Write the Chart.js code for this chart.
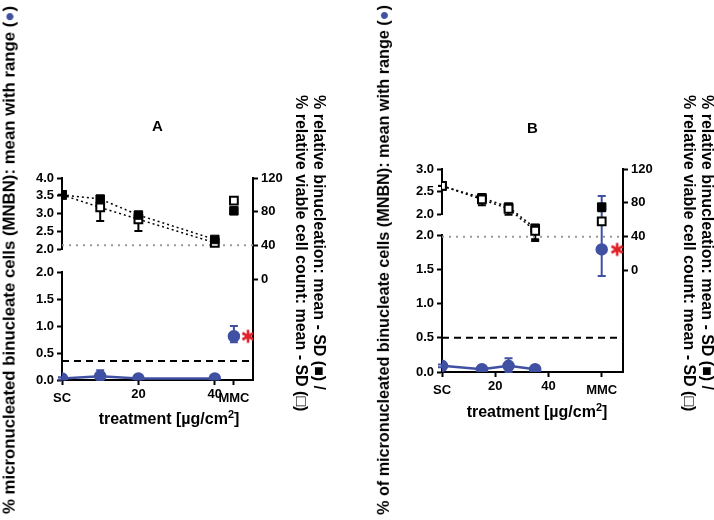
<!DOCTYPE html>
<html>
<head>
<meta charset="utf-8">
<script src="https://cdn.jsdelivr.net/npm/chart.js@4.4.0/dist/chart.umd.min.js"></script>
<style>
  body { margin: 0; background: #fff; }
  #wrap { position: relative; width: 714px; height: 520px; overflow: hidden;
          font-family: "Liberation Sans", Arial, sans-serif; font-weight: bold; color: #000; }
  #wrap canvas { position: absolute; top: 0; }
  .lbl { position: absolute; white-space: nowrap; line-height: 1; }
  .rot-l { transform: translate(-50%, -50%) rotate(-90deg); }
  .rot-r { transform-origin: 0 0; transform: rotate(90deg) translateY(-50%); font-size: 16px; }
  .xt { transform: translate(-50%, -50%); font-size: 16px; }
  .dot { color: #4051a3; }
</style>
</head>
<body>
<div id="wrap">
  <canvas id="chartA" width="357" height="520" style="left:0"></canvas>
  <canvas id="chartB" width="357" height="520" style="left:357px"></canvas>

  <div class="lbl rot-l" style="left:10px; top:260px; font-size:16.8px">% micronucleated binucleate cells (MNBN): mean with range (<span class="dot">●</span>)</div>
  <div class="lbl rot-r" style="left:319px; top:95px">% relative binucleation: mean - SD (■) /</div>
  <div class="lbl rot-r" style="left:301px; top:95px">% relative viable cell count: mean - SD (□)</div>
  <div class="lbl xt" style="left:169px; top:418px">treatment [µg/cm<sup style="font-size:11px">2</sup>]</div>

  <div class="lbl rot-l" style="left:383px; top:260px; font-size:16.2px">% of micronucleated binucleate cells (MNBN): mean with range (<span class="dot">●</span>)</div>
  <div class="lbl rot-r" style="left:707px; top:95px">% relative binucleation: mean - SD (■) /</div>
  <div class="lbl rot-r" style="left:689px; top:95px">% relative viable cell count: mean - SD (□)</div>
  <div class="lbl xt" style="left:537px; top:411px">treatment [µg/cm<sup style="font-size:11px">2</sup>]</div>
</div>

<script>
// ---- panel A data (x: SC = 0, MMC drawn at 45) ----
const xA = [0, 10, 20, 40, 45];
const mnbnA = [0.03, 0.07, 0.03, 0.03, 0.81];
const mnbnA_lo = [0.01, 0.0, 0.01, 0.01, 0.70];
const mnbnA_hi = [0.05, 0.18, 0.05, 0.05, 1.0];
const binucA = [100, 95, 76, 47, 81];
const binucA_sd = [100, 92, 73, 44, 78];
const viableA = [100, 85, 71, 43, 93];
const viableA_sd = [100, 69, 57, 40, 90];
const cutoffA = 0.35;
const starA = [48.7, 0.81];
const xTicksA = [0, 20, 40, 45];
const xLabelsA = ["SC", "20", "40", "MMC"];

// ---- panel B data (x: SC = 0, MMC drawn at 60) ----
const xB = [0, 15, 25, 35, 60];
const mnbnB = [0.09, 0.04, 0.09, 0.04, 1.79];
const mnbnB_lo = [0.07, 0.02, 0.0, 0.02, 1.4];
const mnbnB_hi = [0.11, 0.06, 0.2, 0.06, 2.4];
const binucB = [100, 86, 75, 50, 75];
const binucB_sd = [100, 77, 66, 35, 70];
const viableB = [100, 84, 73, 47, 58];
const viableB_sd = [100, 80, 70, 37, 54];
const cutoffB = 0.5;
const starB = [65.8, 1.79];
const xTicksB = [0, 20, 40, 60];
const xLabelsB = ["SC", "20", "40", "MMC"];

const rightTicks = [0, 40, 80, 120];
const viabilityLine = 40;

const BLUE = "#4051a3";
const FAMILY = "'Liberation Sans Narrow', 'Liberation Sans', Arial, sans-serif";
const tickFont = { family: FAMILY, size: 13, weight: "bold" };

// six-armed red asterisk used as the significance marker
const asterisk = document.createElement("canvas");
asterisk.width = 16;
asterisk.height = 16;
(function () {
  const c = asterisk.getContext("2d");
  c.strokeStyle = "#e0202a";
  c.lineWidth = 2.6;
  c.lineCap = "butt";
  [90, 30, 150].forEach((deg) => {
    const a = (deg * Math.PI) / 180;
    c.beginPath();
    c.moveTo(8 - 6.5 * Math.cos(a), 8 - 6.5 * Math.sin(a));
    c.lineTo(8 + 6.5 * Math.cos(a), 8 + 6.5 * Math.sin(a));
    c.stroke();
  });
})();

// y pixel, values above 2 on the lower left axis go onto the upper (broken) part
function yPix(chart, id, v) {
  if (id === "yLow" && v > 2) return chart.scales.yHigh.getPixelForValue(v);
  return chart.scales[id].getPixelForValue(v);
}

const errorBars = {
  id: "errorBars",
  beforeDatasetsDraw(chart) {
    const ctx = chart.ctx;
    chart.data.datasets.forEach((ds, i) => {
      if (!ds.errLo && !ds.errHi) return;
      const sx = chart.scales.x;
      ctx.save();
      ctx.strokeStyle = ds.errColor;
      ctx.lineWidth = 2;
      ds.data.forEach((p, j) => {
        const px = sx.getPixelForValue(p.x);
        const py = yPix(chart, ds.yAxisID, p.y);
        [ds.errLo, ds.errHi].forEach((arr) => {
          if (!arr || arr[j] == null) return;
          const ey = yPix(chart, ds.yAxisID, arr[j]);
          ctx.beginPath();
          ctx.moveTo(px, py);
          ctx.lineTo(px, ey);
          ctx.moveTo(px - 4, ey);
          ctx.lineTo(px + 4, ey);
          ctx.stroke();
        });
      });
      ctx.restore();
    });
  },
};

const pts = (xs, ys) => xs.map((x, i) => ({ x: x, y: ys[i] }));
// no line from the last dose to MMC
const noLastSeg = (color) => (c) => (c.p1DataIndex === 4 ? "rgba(0,0,0,0)" : color);

function yAxis(extra) {
  return Object.assign({
    position: "left",
    stack: "left",
    ticks: { stepSize: 0.5, autoSkip: false, font: tickFont, color: "#000", padding: 3,
             callback: (v) => v.toFixed(1) },
    grid: { drawOnChartArea: false, tickLength: 5, tickWidth: 2, color: "#000" },
    border: { color: "#000", width: 2 },
    afterFit: (s) => { s.width = 40; },
  }, extra);
}

function makePanel(id, p) {
  const sets = [
    {
      label: "mnbn", yAxisID: "yLow", data: pts(p.x, p.mnbn),
      errLo: p.mnbnLo, errHi: p.mnbnHi, errColor: BLUE,
      borderColor: BLUE, borderWidth: 2.5, segment: { borderColor: noLastSeg(BLUE) },
      pointRadius: 5, pointBackgroundColor: BLUE, pointBorderColor: BLUE,
    },
    {
      label: "star", yAxisID: "yLow", data: [{ x: p.star[0], y: p.star[1] }], showLine: false,
      pointStyle: asterisk,
    },
  ];
  const filled = {
    label: "binuc", yAxisID: "yR", data: pts(p.x, p.binuc), errLo: p.binucSd, errColor: "#000",
    borderColor: "#000", borderWidth: 1.5, borderDash: [2, 3], segment: { borderColor: noLastSeg("#000") },
    pointStyle: "rect", pointRadius: 6, pointBackgroundColor: "#000", pointBorderColor: "#000", pointBorderWidth: 1,
  };
  const open = {
    label: "viable", yAxisID: "yR", data: pts(p.x, p.viable), errLo: p.viableSd, errColor: "#000",
    borderColor: "#000", borderWidth: 1.5, borderDash: [2, 3], segment: { borderColor: noLastSeg("#000") },
    pointStyle: "rect", pointRadius: 5.5, pointBackgroundColor: "#fff", pointBorderColor: "#000", pointBorderWidth: 2,
  };
  if (p.openOnTop) sets.push(open, filled); else sets.push(filled, open);
  sets.push(
    {
      label: "cutoff", yAxisID: "yLow", data: [{ x: 0, y: p.cutoff }, { x: p.xMax, y: p.cutoff }],
      borderColor: "#000", borderWidth: 2, borderDash: [7, 5], pointRadius: 0,
    },
    {
      label: "viability", yAxisID: "yR", data: [{ x: 0, y: viabilityLine }, { x: p.xMax, y: viabilityLine }],
      borderColor: "#9a9a9a", borderWidth: 2, borderDash: [2, 5], pointRadius: 0,
    }
  );

  // SC and MMC labels sit a little lower than the dose labels
  const lowLabel = (i) => i === 0 || i === p.xTicks.length - 1;

  new Chart(document.getElementById(id), {
    type: "line",
    data: { datasets: sets },
    plugins: [errorBars],
    options: {
      responsive: false,
      animation: false,
      devicePixelRatio: 1,
      layout: { padding: p.pad },
      plugins: {
        legend: { display: false },
        tooltip: { enabled: false },
        title: {
          display: true, text: p.title, fullSize: false, color: "#000",
          font: { family: "'Liberation Sans', Arial, sans-serif", size: 15, weight: "bold" },
          padding: { top: 0, bottom: p.titleGap },
        },
      },
      scales: {
        x: {
          type: "linear", min: 0, max: p.xMax,
          afterBuildTicks: (s) => { s.ticks = p.xTicks.map((v) => ({ value: v })); },
          ticks: {
            color: "#000", padding: 2, maxRotation: 0, autoSkip: false,
            font: (c) => ({ family: FAMILY, size: 13, weight: "bold", lineHeight: lowLabel(c.index) ? 0.6 : 1.2 }),
            callback: (v, i) => (lowLabel(i) ? ["", p.xLabels[i]] : p.xLabels[i]),
          },
          grid: { drawOnChartArea: false, tickLength: 5, tickWidth: 2, color: "#000" },
          border: { color: "#000", width: 2 },
          afterFit: (s) => { s.height = 30; },
        },
        yLow: yAxis({ min: 0, max: 2, stackWeight: p.w[2], weight: 1 }),
        yGap: yAxis({
          min: 0, max: 1, stackWeight: p.w[1], weight: 2,
          ticks: { display: false }, grid: { display: false }, border: { display: false },
        }),
        yHigh: yAxis({ min: 2, max: p.highMax, stackWeight: p.w[0], weight: 3 }),
        yR: {
          position: "right", min: -120, max: 120,
          afterBuildTicks: (s) => { s.ticks = rightTicks.map((v) => ({ value: v })); },
          ticks: { font: tickFont, color: "#000", padding: 3 },
          grid: { drawOnChartArea: false, tickLength: 5, tickWidth: 2, color: "#000" },
          border: { color: "#000", width: 2 },
          afterFit: (s) => { s.width = 40; },
        },
      },
    },
  });
}

makePanel("chartA", {
  title: "A", titleGap: 42, pad: { top: 118, left: 22, right: 64, bottom: 110 },
  x: xA, mnbn: mnbnA, mnbnLo: mnbnA_lo, mnbnHi: mnbnA_hi,
  binuc: binucA, binucSd: binucA_sd, viable: viableA, viableSd: viableA_sd,
  cutoff: cutoffA, star: starA, xMax: 50, xTicks: xTicksA, xLabels: xLabelsA,
  highMax: 4, w: [71, 23, 108], openOnTop: false,
});

makePanel("chartB", {
  title: "B", titleGap: 31, pad: { top: 120, left: 45, right: 51, bottom: 118 },
  x: xB, mnbn: mnbnB, mnbnLo: mnbnB_lo, mnbnHi: mnbnB_hi,
  binuc: binucB, binucSd: binucB_sd, viable: viableB, viableSd: viableB_sd,
  cutoff: cutoffB, star: starB, xMax: 68, xTicks: xTicksB, xLabels: xLabelsB,
  highMax: 3, w: [45, 21, 137], openOnTop: true,
});
</script>
</body>
</html>
